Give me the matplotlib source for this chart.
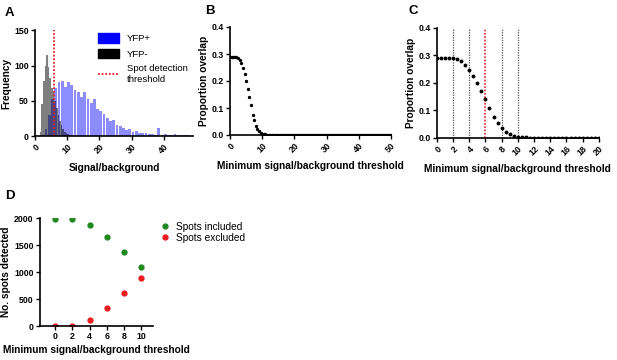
import matplotlib
matplotlib.use('Agg')
import matplotlib.pyplot as plt
from matplotlib.patches import Patch
from matplotlib.lines import Line2D

plt.rcParams['font.family'] = ['Liberation Sans', 'DejaVu Sans']
plt.rcParams['font.weight'] = 'bold'

# panel A: histograms (bin left edges and counts)
neg_edges = [1.5, 2.0, 2.5, 3.0, 3.5, 4.0, 4.5, 5.0, 5.5, 6.0, 6.5, 7.0, 7.5,
             8.0, 8.5, 9.0, 9.5, 10.0, 10.5, 11.0]
neg_counts = [6, 45, 78, 100, 115, 98, 82, 68, 62, 50, 40, 30, 22,
              15, 10, 6, 4, 3, 2, 1]
pos_edges = list(range(2, 48))
pos_counts = [2, 10, 30, 52, 68, 76, 78, 70, 77, 72, 66, 62, 55, 62, 52, 47,
              53, 38, 36, 32, 26, 21, 23, 16, 14, 11, 9, 10, 6, 7, 5, 4, 5,
              3, 3, 2, 12, 2, 3, 2, 1, 3, 1, 1, 2, 1]
spot_threshold = 6

# panels B and C: proportion overlap vs threshold (step 0.5)
thresholds = [i * 0.5 for i in range(101)]
overlap = [0.29, 0.29, 0.29, 0.29, 0.29, 0.285, 0.278, 0.265, 0.248, 0.225,
           0.2, 0.172, 0.14, 0.11, 0.075, 0.055, 0.035, 0.022, 0.014, 0.008,
           0.005, 0.003, 0.002] + [0.0] * 78
c_lines = [2, 4, 8, 10]

# panel D
d_thresh = [0, 2, 4, 6, 8, 10]
included = [1990, 1985, 1880, 1660, 1375, 1100]
excluded = [0, 0, 105, 330, 620, 895]

fig = plt.figure(figsize=(6.17, 3.6), dpi=100)
axA = fig.add_axes([0.0567, 0.622, 0.256, 0.294])
axB = fig.add_axes([0.3728, 0.625, 0.261, 0.300])
axC = fig.add_axes([0.708, 0.617, 0.2626, 0.3056])
axD = fig.add_axes([0.0648, 0.094, 0.183, 0.300])

for ax in (axA, axB, axC, axD):
    ax.spines['top'].set_visible(False)
    ax.spines['right'].set_visible(False)
    ax.spines['left'].set_linewidth(1.2)
    ax.spines['bottom'].set_linewidth(1.2)
    ax.tick_params(width=1, length=3, labelsize=6.3, pad=1.5)

lab_kw = dict(fontsize=7.3, fontweight='bold')

# A
axA.bar(pos_edges, pos_counts, width=0.85, align='edge', color='blue', alpha=0.45, linewidth=0)
axA.bar(neg_edges, neg_counts, width=0.5, align='edge', color='black', alpha=0.5, linewidth=0)
axA.axvline(spot_threshold, color='#e8202a', linestyle=(0, (1, 1)), linewidth=1.3)
axA.set_xlim(0, 49)
axA.set_ylim(0, 150)
axA.set_xticks([0, 10, 20, 30, 40])
axA.set_yticks([0, 50, 100, 150])
axA.set_xlabel('Signal/background', labelpad=5, **lab_kw)
axA.set_ylabel('Frequency', labelpad=2, **lab_kw)
handles = [Patch(color='blue', label='YFP+'), Patch(color='black', label='YFP-'),
           Line2D([], [], color='#e8202a', linestyle=(0, (1, 1)), linewidth=1.3,
                  label='Spot detection\nthreshold')]
axA.legend(handles=handles, loc='upper right', bbox_to_anchor=(1.02, 1.05), frameon=False,
           prop={'size': 6.8, 'weight': 'normal'}, handlelength=2.2, handleheight=1.1,
           labelspacing=0.6)

# B
axB.plot(thresholds, overlap, 'o', color='black', markersize=1.4)
axB.set_xlim(0, 50)
axB.set_ylim(0, 0.4)
axB.set_xticks([0, 10, 20, 30, 40, 50])
axB.set_yticks([0.0, 0.1, 0.2, 0.3, 0.4])
axB.set_xlabel('Minimum signal/background threshold', labelpad=5, **lab_kw)
axB.set_ylabel('Proportion overlap', labelpad=2, **lab_kw)

# C
for v in c_lines:
    axC.axvline(v, color='#555555', linestyle=(0, (1, 1)), linewidth=0.9)
axC.axvline(spot_threshold, color='#e8202a', linestyle=(0, (1, 1)), linewidth=1.2)
axC.plot(thresholds, overlap, 'o', color='black', markersize=1.8)
axC.set_xlim(0, 20)
axC.set_ylim(0, 0.4)
axC.set_xticks(range(0, 21, 2))
axC.set_yticks([0.0, 0.1, 0.2, 0.3, 0.4])
axC.set_xlabel('Minimum signal/background threshold', labelpad=5, **lab_kw)
axC.set_ylabel('Proportion overlap', labelpad=2, **lab_kw)

for ax in (axA, axB, axC):
    for lab in ax.get_xticklabels():
        lab.set_rotation(45)
        lab.set_ha('right')
        lab.set_rotation_mode('anchor')

# D
axD.plot(d_thresh, included, 'o', color='#1e8a1e', markersize=3.5, label='Spots included')
axD.plot(d_thresh, excluded, 'o', color='#ee1c1c', markersize=3.5, label='Spots excluded')
axD.set_xlim(-1.8, 11.4)
axD.set_ylim(0, 2000)
axD.set_xticks(d_thresh)
axD.set_yticks([0, 500, 1000, 1500, 2000])
axD.set_ylabel('No. spots detected', labelpad=2, **lab_kw)
fig.text(0.005, 0.028, 'Minimum signal/background threshold', ha='left', va='center', **lab_kw)
axD.legend(loc='upper left', bbox_to_anchor=(0.98, 1.05), frameon=False,
           prop={'size': 7.3, 'weight': 'normal'},
           handlelength=1, handletextpad=0.6, labelspacing=0.1)

for letter, x, y in [('A', 0.008, 0.965), ('B', 0.333, 0.97), ('C', 0.662, 0.97), ('D', 0.008, 0.455)]:
    fig.text(x, y, letter, fontsize=9.5, fontweight='bold', va='center')

fig.savefig('out.png', dpi=100)
